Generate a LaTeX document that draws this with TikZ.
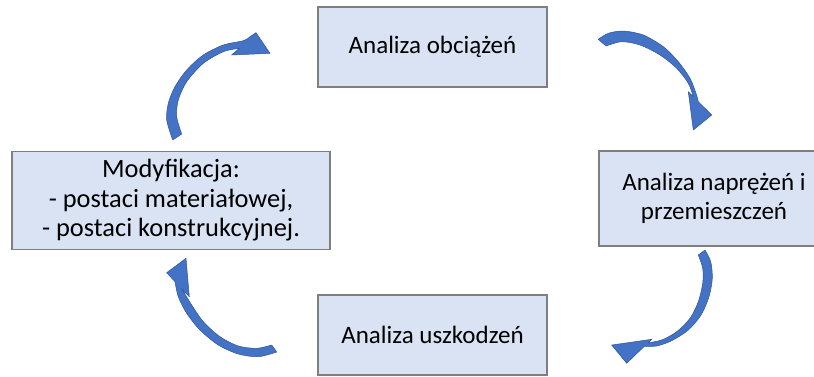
\documentclass[tikz,border=0pt]{standalone}
\usepackage{fontspec}
\setmainfont{Carlito}
\definecolor{boxfill}{HTML}{DAE3F3}
\definecolor{boxline}{HTML}{7F7F7F}
\definecolor{arrfill}{HTML}{4472C4}
\definecolor{arrline}{HTML}{2F5597}
\begin{document}
\begin{tikzpicture}[x=1pt,y=-1pt,
  stagebox/.style={draw=boxline, line width=1.5pt, fill=boxfill, align=center,
    inner sep=0pt, font=\fontsize{25}{28.5}\selectfont},
  blockarrow/.style={fill=arrfill, draw=arrline, line width=0.5pt, line join=round}]
\useasboundingbox (0,0) rectangle (814,376);

\node[stagebox, minimum width=229pt, minimum height=80pt] (load) at (432.5,47) {Analiza obciążeń};
\node[stagebox, minimum width=230pt, minimum height=95pt] (stress) at (714,198.5) {Analiza naprężeń i\\przemieszczeń};
\node[stagebox, minimum width=229pt, minimum height=80pt] (damage) at (432.5,335) {Analiza uszkodzeń};
\node[stagebox, minimum width=318pt, minimum height=98pt, font=\fontsize{26.4}{29.5}\selectfont] (modif) at (171,200.5) {Modyfikacja:\\- postaci materiałowej,\\- postaci konstrukcyjnej.};

% arrow: modification -> load
\path[blockarrow] (172.7,140) -- plot[smooth] coordinates {(172.7,140) (166.7,120) (168.3,103.3) (175,86.7) (186.7,70) (203.3,55) (223.3,45) (243.3,40.7) (250,36.7)}
  -- (256,32.7) -- (270,53.3) -- (231.7,55) -- (239.3,48.3)
  -- plot[smooth] coordinates {(239.3,48.3) (223.3,51.7) (203.3,63.3) (186.7,81.7) (178.3,100) (176.7,116.7) (181.7,134)} -- cycle;

% arrow: load -> stress
\path[blockarrow] (598.3,39.3) -- plot[smooth] coordinates {(598.3,39.3) (608.3,33.3) (623.3,31) (643.3,35) (663.3,46.7) (678.3,61.7) (690,78.3) (696,93.3) (698.3,101.7)}
  -- (711.7,115) -- (693.3,130) -- (688.3,91.7) -- (693.3,96.7)
  -- plot[smooth] coordinates {(693.3,96.7) (688.3,83.3) (676.7,68.3) (660,55) (640,45) (621.7,41.7) (606,46)} -- cycle;

% arrow: stress -> damage
\path[blockarrow] (698.3,255) -- (705,250) -- plot[smooth] coordinates {(705,250) (710.7,261.7) (712.3,278.3) (709,296.7) (701,315) (688.3,330) (671.7,340.7) (656.7,346) (644.3,346.3)}
  -- (626.7,363.3) -- (611.7,345) -- (651.7,339.3) -- (648.3,342.7)
  -- plot[smooth] coordinates {(648.3,342.7) (661.7,340) (676.7,331.7) (690,318.3) (698.3,301.7) (702.7,283.3) (702.7,268.3) (698.3,255)} -- cycle;

% arrow: damage -> modification
\path[blockarrow] (166.7,272.7) -- (186,258.3) -- (189.3,296.7) -- (181.7,288.7)
  -- plot[smooth] coordinates {(181.7,288.7) (191.7,305) (203.3,321.7) (220,336.7) (238.3,346) (256.7,348.3) (271.7,345)}
  -- (276.7,352)
  -- plot[smooth] coordinates {(276.7,352) (258.3,356.7) (238.3,354) (218.3,345) (200,330) (186.7,313.3) (178.3,296.7) (175,281.7)} -- cycle;
\end{tikzpicture}
\end{document}
